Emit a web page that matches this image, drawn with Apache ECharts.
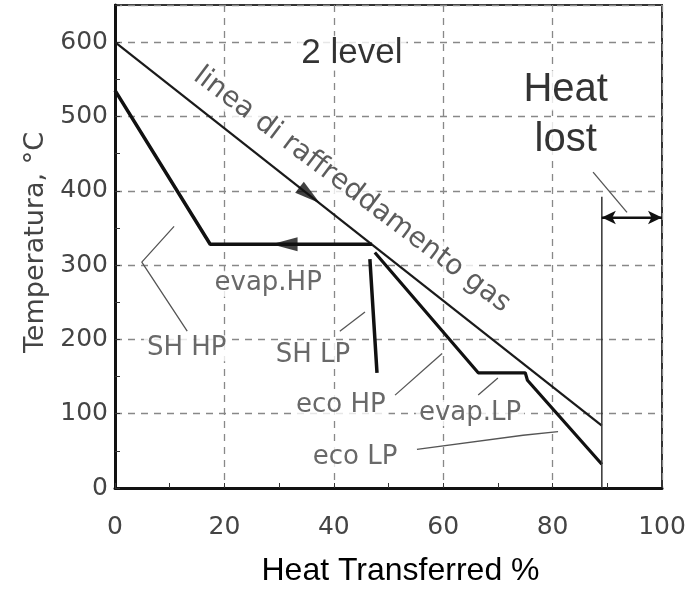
<!DOCTYPE html>
<html><head><meta charset="utf-8">
<script src="https://cdn.jsdelivr.net/npm/echarts@6/dist/echarts.min.js"></script>
<style>html,body{margin:0;padding:0;background:#fff}#c{width:694px;height:592px}</style>
</head><body><div id="c"></div>
<script>
// ---- data ----
const xTicksMax = 100;
const yTicksMax = 600;
const gasLine = [[0,600],[89,84]];
const hpWater = [[0,535],[17.4,328],[47,328]];
const shLP = [[46.6,308],[47.9,155]];
const ecoPath = [[47.5,317],[66.4,155],[75,155],[75.4,145],[89,32]];
const heatLostLine = [[89,0],[89,392]];
const leaderSHHP = [[10.8,352],[4.9,304],[13.2,211]];
const leaderSHLP = [[41.1,211],[45.7,237]];
const leaderEcoHP = [[51.2,125],[59.8,181]];
const leaderEvapLP = [[66.4,125],[70,148]];
const leaderEcoLP = [[55.2,52],[74.6,71],[81,76]];
const leaderHeatLost = [[87.4,425],[93.6,371]];
const heatLostSpan = [[89,364],[100,364]];
const arrowPos = [[35.6,394],[31,328]];
const arrowDir = [-128, 90];
const annotNames = ['evap.HP','SH HP','SH LP','eco HP','evap.LP','eco LP'];
const annotPos = [[28,275],[13.1,188],[36.2,179],[41.3,111],[64.9,101],[43.9,41]];
const titleNames = ['2 level','Heat','lost'];
const titlePos = [[43.3,585],[82.4,535],[82.4,468]];
const titleSizes = [35,40,40];
const gasLabel = 'linea di raffreddamento gas';
const gasLabelPos = [43.3,401];

const chart = echarts.init(document.getElementById('c'), null, {renderer:'canvas'});
const grayFont = 'DejaVu Sans';
const sansFont = 'Liberation Sans, Arial';

function lineSeries(data, width, color, z){
  return {type:'line', data:data, showSymbol:false, symbol:'none', silent:true,
    lineStyle:{color:color, width:width}, z:z||3, animation:false};
}
const leaders = [leaderSHHP, leaderSHLP, leaderEcoHP, leaderEvapLP, leaderEcoLP, leaderHeatLost]
  .map(d => lineSeries(d, 1.3, '#555', 3));

const option = {
  animation:false,
  backgroundColor:'#fff',
  grid:{left:115, right:32, top:5, bottom:101, show:true, borderColor:'#333', borderWidth:2, backgroundColor:'transparent'},
  xAxis:{type:'value', min:0, max:xTicksMax, interval:20,
    name:'Heat Transferred %', nameLocation:'middle', nameGap:67,
    nameTextStyle:{fontFamily:sansFont, fontSize:32, color:'#000', padding:[0,0,0,24]},
    axisLine:{show:true, onZero:false, lineStyle:{color:'#111', width:3}},
    axisTick:{show:true, inside:true, length:5, lineStyle:{color:'#333'}},
    minorTick:{show:true, splitNumber:2, length:5, lineStyle:{color:'#333'}},
    axisLabel:{fontFamily:grayFont, fontSize:25, color:'#444', margin:27},
    splitLine:{show:true, lineStyle:{color:'#888', type:[7,6], width:1.3}}
  },
  yAxis:{type:'value', min:0, max:650, interval:100,
    name:'Temperatura, °C', nameLocation:'middle', nameGap:63, nameRotate:90,
    nameTextStyle:{fontFamily:grayFont, fontSize:27, color:'#444', padding:[0,0,0,8]},
    axisLine:{show:true, onZero:false, lineStyle:{color:'#111', width:3}},
    axisTick:{show:true, inside:true, length:5, lineStyle:{color:'#333'}},
    minorTick:{show:true, splitNumber:2, length:5, lineStyle:{color:'#333'}},
    axisLabel:{fontFamily:grayFont, fontSize:25, color:'#444', margin:7, padding:[12,0,0,0],
      formatter:v => v > yTicksMax ? '' : String(v)},
    splitLine:{show:true, lineStyle:{color:'#888', type:[7,6], width:1.3}}
  },
  series:[
    {type:'scatter', z:1, silent:true, symbolSize:1, itemStyle:{color:'transparent'},
      data: annotNames.map((n,i)=>({name:n, value:annotPos[i]})),
      label:{show:true, position:'inside', formatter:'{b}', fontFamily:grayFont, fontSize:26, color:'#444',
        backgroundColor:'#fff', padding:[0,3]}},
    {type:'scatter', z:1, silent:true, symbolSize:1, itemStyle:{color:'transparent'},
      data: titleNames.map((n,i)=>({name:n, value:titlePos[i], label:{fontSize:titleSizes[i]}})),
      label:{show:true, position:'inside', formatter:'{b}', fontFamily:sansFont, color:'#000',
        backgroundColor:'#fff', padding:[0,4]}},
    {type:'scatter', z:1, silent:true, symbolSize:1, itemStyle:{color:'transparent'},
      data:[{name:gasLabel, value:gasLabelPos}],
      label:{show:true, position:'inside', formatter:'{b}', rotate:-37, fontFamily:grayFont, fontSize:28, color:'#333',
        backgroundColor:'#fff', padding:[0,2]}},
    lineSeries(gasLine, 2.2, '#1a1a1a', 4),
    lineSeries(hpWater, 3.5, '#111', 4),
    lineSeries(shLP, 3.5, '#111', 4),
    lineSeries(ecoPath, 3.2, '#111', 4),
    lineSeries(heatLostLine, 1.5, '#333', 4),
    ...leaders,
    {type:'line', data:heatLostSpan, showSymbol:false, symbol:'none', silent:true,
      lineStyle:{color:'#111', width:2}, z:4,
      markLine:{silent:true, symbol:['arrow','arrow'], symbolSize:[10,14], animation:false,
        label:{show:false}, lineStyle:{color:'#111', width:2, type:'solid'},
        data:[[{coord:heatLostSpan[0]},{coord:heatLostSpan[1]}]]}},
    {type:'scatter', z:6, zlevel:1, silent:true, symbol:'triangle', symbolSize:[14,26],
      itemStyle:{color:'#111'},
      data: arrowPos.map((p,i)=>({value:p, symbolRotate:arrowDir[i]}))}
  ]
};
chart.setOption(option);
</script></body></html>
